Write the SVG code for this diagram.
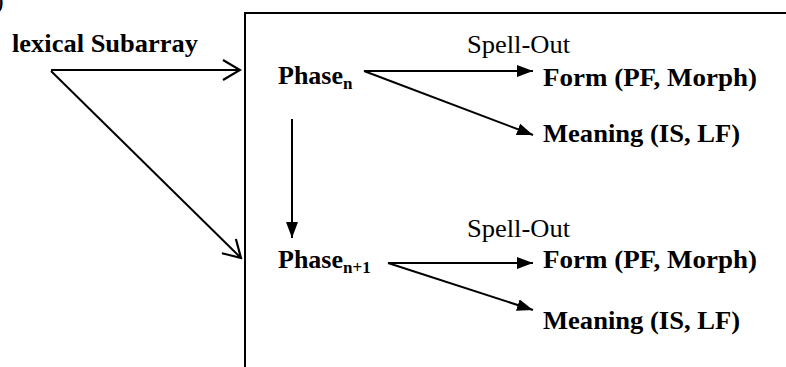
<svg xmlns="http://www.w3.org/2000/svg" width="786" height="367" viewBox="0 0 786 367">
<style>
.b{font-family:"Liberation Serif","Times New Roman",serif;font-weight:bold;font-size:26px;fill:#000}
.r{font-family:"Liberation Serif","Times New Roman",serif;font-size:26px;fill:#000}
.s{font-weight:bold;font-size:17px}
.ln{stroke:#000;stroke-width:2;fill:none}
</style>
<defs>
<marker id="open" viewBox="0 0 20 22" refX="18" refY="11" markerWidth="20" markerHeight="22" markerUnits="userSpaceOnUse" orient="auto">
<path d="M1,1 L18,11 L1,21" fill="none" stroke="#000" stroke-width="2.2"/>
</marker>
<marker id="fill" viewBox="0 0 16 12" refX="16" refY="6" markerWidth="16" markerHeight="12" markerUnits="userSpaceOnUse" orient="auto">
<path d="M0,0 L16,6 L0,12 Z" fill="#000"/>
</marker>
</defs>
<text class="r" x="-5" y="9">)</text>
<g id="frame"><path class="ln" d="M245,367 L245,13 L786,13"/></g>
<g id="lexical"><text class="b" x="12" y="52" textLength="186" lengthAdjust="spacingAndGlyphs">lexical Subarray</text></g>
<g id="phase-n"><text class="b" x="278" y="84">Phase<tspan class="s" dy="5">n</tspan></text></g>
<g id="phase-n1"><text class="b" x="278" y="268">Phase<tspan class="s" dy="5">n+1</tspan></text></g>
<g id="form1"><text class="b" x="543" y="86" textLength="214" lengthAdjust="spacingAndGlyphs">Form (PF, Morph)</text></g>
<g id="meaning1"><text class="b" x="543" y="142" textLength="197" lengthAdjust="spacingAndGlyphs">Meaning (IS, LF)</text></g>
<g id="form2"><text class="b" x="543" y="268" textLength="214" lengthAdjust="spacingAndGlyphs">Form (PF, Morph)</text></g>
<g id="meaning2"><text class="b" x="543" y="329" textLength="197" lengthAdjust="spacingAndGlyphs">Meaning (IS, LF)</text></g>
<g id="connectors">
<line class="ln" x1="51" y1="70" x2="240" y2="70" marker-end="url(#open)"/>
<line class="ln" x1="51" y1="71" x2="241" y2="258" marker-end="url(#open)"/>
<line class="ln" x1="364" y1="71" x2="533" y2="71" marker-end="url(#fill)"/>
<line class="ln" x1="364" y1="71" x2="533" y2="135" marker-end="url(#fill)"/>
<line class="ln" x1="292" y1="119" x2="292" y2="238" marker-end="url(#fill)"/>
<line class="ln" x1="388" y1="263" x2="533" y2="263" marker-end="url(#fill)"/>
<line class="ln" x1="388" y1="263" x2="533" y2="310" marker-end="url(#fill)"/>
<text class="r" x="467" y="53" textLength="103" lengthAdjust="spacingAndGlyphs">Spell-Out</text>
<text class="r" x="467" y="237" textLength="103" lengthAdjust="spacingAndGlyphs">Spell-Out</text>
</g>
</svg>
